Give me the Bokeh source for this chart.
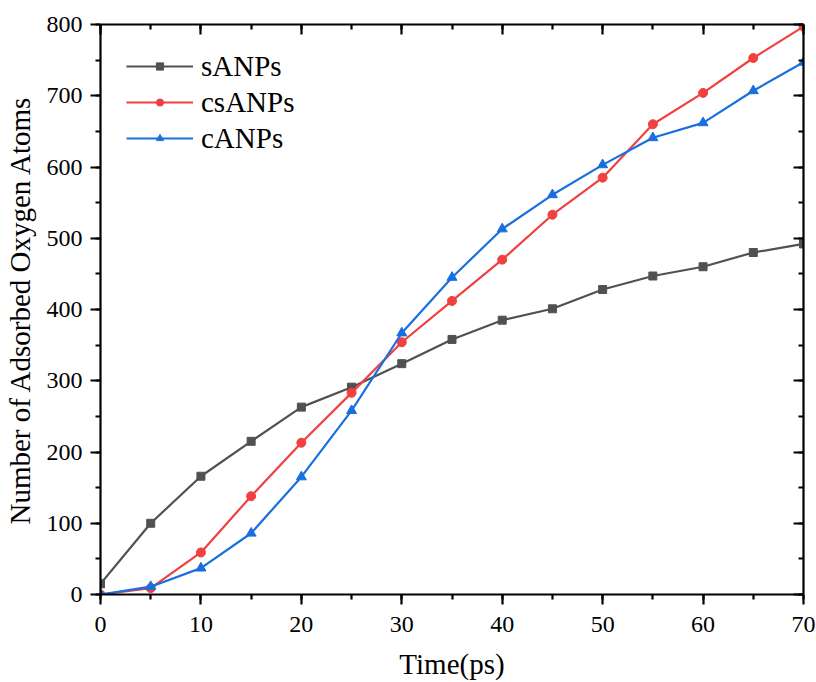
from bokeh.plotting import figure
from bokeh.models import LinearAxis, SingleIntervalTicker, Range1d, Legend, LegendItem
from bokeh.embed import file_html
from bokeh.resources import INLINE

time_ps = [0, 5, 10, 15, 20, 25, 30, 35, 40, 45, 50, 55, 60, 65, 70]
sANPs = [15, 100, 166, 215, 263, 291, 324, 358, 385, 401, 428, 447, 460, 480, 492]
csANPs = [0, 9, 59, 138, 213, 283, 354, 412, 470, 533, 585, 660, 704, 753, 797]
cANPs = [0, 11, 37, 86, 165, 258, 367, 445, 513, 561, 603, 641, 662, 707, 747]

series_names = ["sANPs", "csANPs", "cANPs"]
x_label = "Time(ps)"
y_label = "Number of Adsorbed Oxygen Atoms"

FONT = "Liberation Serif"
GRAY, RED, BLUE = "#515151", "#F14040", "#1A6FDF"

p = figure(width=816, height=682, output_backend="svg", toolbar_location=None,
           x_range=Range1d(0, 70), y_range=Range1d(0, 800),
           min_border_left=100, min_border_right=13, min_border_top=24, min_border_bottom=88)
p.grid.visible = False
p.outline_line_color = None
p.background_fill_color = "white"
p.border_fill_color = "white"

def style_axis(ax, outward, labels=True):
    ax.axis_line_color = "black"
    ax.axis_line_width = 2.2
    ax.major_tick_line_color = "black"
    ax.major_tick_line_width = 2.2
    ax.minor_tick_line_color = "black"
    ax.minor_tick_line_width = 2.2
    if outward:
        ax.major_tick_out, ax.major_tick_in = 10, 0
        ax.minor_tick_out, ax.minor_tick_in = 5, 0
    else:
        ax.major_tick_out, ax.major_tick_in = 0, 10
        ax.minor_tick_out, ax.minor_tick_in = 0, 5
    ax.major_label_text_font = FONT
    ax.axis_label_text_font = FONT
    ax.axis_label_text_font_size = "29px"
    ax.axis_label_text_font_style = "normal"
    ax.axis_label_text_color = "black"
    if labels:
        ax.major_label_text_font_size = "24px"
        ax.major_label_text_color = "black"
    else:
        ax.major_label_text_font_size = "0px"
        ax.major_label_text_color = None
        ax.major_label_standoff = 0

p.xaxis.ticker = SingleIntervalTicker(interval=10, num_minor_ticks=2)
p.yaxis.ticker = SingleIntervalTicker(interval=100, num_minor_ticks=2)
p.xaxis.axis_label = x_label
p.yaxis.axis_label = y_label
style_axis(p.xaxis[0], True)
style_axis(p.yaxis[0], True)
p.xaxis.major_label_standoff = 12
p.yaxis.major_label_standoff = 8
p.xaxis.axis_label_standoff = 13
p.yaxis.axis_label_standoff = 8

top = LinearAxis(ticker=SingleIntervalTicker(interval=10, num_minor_ticks=2))
style_axis(top, False, labels=False)
p.add_layout(top, "above")
right = LinearAxis(ticker=SingleIntervalTicker(interval=100, num_minor_ticks=2))
style_axis(right, False, labels=False)
p.add_layout(right, "right")

l1 = p.line(time_ps, sANPs, line_color=GRAY, line_width=2.2)
m1 = p.scatter(time_ps, sANPs, marker="square", size=8, fill_color=GRAY, line_color=GRAY)
l2 = p.line(time_ps, csANPs, line_color=RED, line_width=2.2)
m2 = p.scatter(time_ps, csANPs, marker="circle", size=9, fill_color=RED, line_color=RED)
l3 = p.line(time_ps, cANPs, line_color=BLUE, line_width=2.2)
m3 = p.scatter(time_ps, cANPs, marker="triangle", size=10, fill_color=BLUE, line_color=BLUE)

legend = Legend(items=[
    LegendItem(label=series_names[0], renderers=[l1, m1]),
    LegendItem(label=series_names[1], renderers=[l2, m2]),
    LegendItem(label=series_names[2], renderers=[l3, m3]),
], location=(26, 438))
legend.label_text_font = FONT
legend.label_text_font_size = "29px"
legend.label_text_color = "black"
legend.glyph_width = 67
legend.glyph_height = 18
legend.label_height = 36
legend.label_standoff = 8
legend.spacing = 0
legend.margin = 0
legend.padding = 6
legend.border_line_color = None
legend.background_fill_alpha = 0
p.add_layout(legend)

open("out.html", "w").write(file_html(p, INLINE))
